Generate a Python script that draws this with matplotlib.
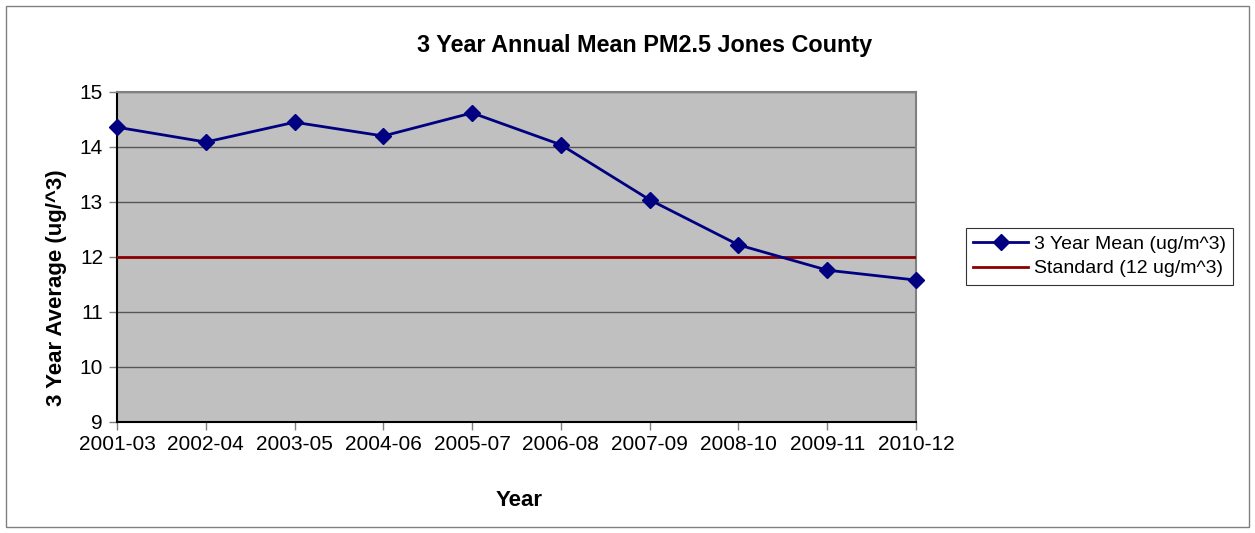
import matplotlib.pyplot as plt
from matplotlib.patches import Rectangle

plt.rcParams["font.family"] = ["Liberation Sans", "DejaVu Sans"]

years = ["2001-03", "2002-04", "2003-05", "2004-06", "2005-07",
         "2006-08", "2007-09", "2008-10", "2009-11", "2010-12"]
mean_pm25 = [14.36, 14.09, 14.45, 14.20, 14.62, 14.04, 13.04, 12.22, 11.76, 11.58]
standard = [12] * len(years)

NAVY = "#000080"
DARK_RED = "#8b0000"
PLOT_BG = "#c0c0c0"

fig = plt.figure(figsize=(12.55, 5.33), dpi=100)
fig.patches.append(Rectangle((0.005, 0.011), 0.99, 0.978, transform=fig.transFigure,
                             fill=False, edgecolor="#808080", linewidth=1.0))

ax = fig.add_axes([0.0932, 0.2083, 0.6367, 0.6191])
ax.set_facecolor(PLOT_BG)

x = list(range(len(years)))
ax.plot(x, standard, color=DARK_RED, linewidth=2.0, label="Standard (12 ug/m^3)", zorder=3)
ax.plot(x, mean_pm25, color=NAVY, linewidth=2.0, marker="D", markersize=8,
        label="3 Year Mean (ug/m^3)", zorder=4, clip_on=False)

ax.set_xlim(0, len(years) - 1)
ax.set_ylim(9, 15)
ax.set_yticks(range(9, 16))
ax.set_xticks(x)
ax.set_xticklabels(years)
ax.grid(True, axis="y", color="#555555", linewidth=1.0)
ax.set_axisbelow(True)

for side in ("left", "bottom"):
    ax.spines[side].set_color("black")
    ax.spines[side].set_linewidth(1.5)
for side in ("top", "right"):
    ax.spines[side].set_color("#808080")
    ax.spines[side].set_linewidth(1.5)

ax.tick_params(axis="both", direction="out", labelsize=15, color="#808080", length=6, width=1)
ax.tick_params(axis="y", pad=4)

ax.set_title("3 Year Annual Mean PM2.5 Jones County", fontsize=16.8, fontweight="bold", pad=29,
             x=0.66)
ax.set_xlabel("Year", fontsize=16, fontweight="bold")
ax.xaxis.set_label_coords(0.503, -0.206)
ax.set_ylabel("3 Year Average (ug/^3)", fontsize=16, fontweight="bold")
ax.yaxis.set_label_coords(-0.063, 0.406)

handles, labels = ax.get_legend_handles_labels()
leg = fig.legend(handles[::-1], labels[::-1], loc="upper left",
                 bbox_to_anchor=(966 / 1255, 1 - 228 / 533), fontsize=14, frameon=True,
                 fancybox=False, edgecolor="black", handlelength=2.8,
                 handletextpad=0.3, borderpad=0.38, labelspacing=0.35,
                 borderaxespad=0)
leg.get_frame().set_linewidth(0.8)

fig.savefig("out.png", dpi=100)
